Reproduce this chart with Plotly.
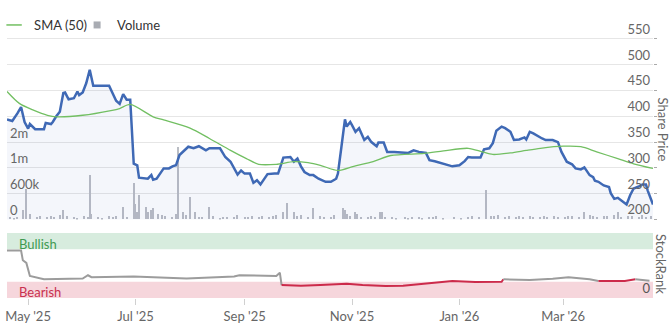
import plotly.graph_objects as go

# ---------------- data ----------------
price_dates = ["2025-04-19","2025-04-22","2025-04-25","2025-04-27","2025-04-29","2025-05-01","2025-05-02","2025-05-05","2025-05-10","2025-05-11",
               "2025-05-14","2025-05-15","2025-05-17","2025-05-19","2025-05-21","2025-05-22","2025-05-24","2025-05-27","2025-05-29","2025-05-30",
               "2025-06-01","2025-06-03","2025-06-05","2025-06-07","2025-06-16","2025-06-17","2025-06-20","2025-06-22","2025-06-24","2025-06-26",
               "2025-06-28","2025-06-30","2025-07-02","2025-07-03","2025-07-08","2025-07-10","2025-07-11","2025-07-13","2025-07-17","2025-07-20",
               "2025-07-22","2025-07-24","2025-07-26","2025-07-31","2025-08-03","2025-08-06","2025-08-10","2025-08-12","2025-08-18","2025-08-21",
               "2025-08-24","2025-08-28","2025-08-30","2025-09-01","2025-09-04","2025-09-06","2025-09-08","2025-09-10","2025-09-12","2025-09-14",
               "2025-09-18","2025-09-20","2025-09-21","2025-09-23","2025-09-27","2025-09-29","2025-10-01","2025-10-03","2025-10-05","2025-10-08",
               "2025-10-10","2025-10-13","2025-10-17","2025-10-20","2025-10-23","2025-10-24","2025-10-26","2025-10-28","2025-10-29","2025-10-31",
               "2025-11-01","2025-11-03","2025-11-05","2025-11-08","2025-11-10","2025-11-12","2025-11-15","2025-11-16","2025-11-19","2025-11-21",
               "2025-11-25","2025-12-03","2025-12-06","2025-12-09","2025-12-13","2025-12-15","2025-12-18","2025-12-21","2025-12-24","2025-12-28",
               "2026-01-01","2026-01-04","2026-01-06","2026-01-08","2026-01-13","2026-01-15","2026-01-18","2026-01-20","2026-01-22","2026-01-25",
               "2026-01-27","2026-01-30","2026-02-01","2026-02-04","2026-02-07","2026-02-08","2026-02-10","2026-02-12","2026-02-17","2026-02-19",
               "2026-02-23","2026-02-26","2026-02-28","2026-03-03","2026-03-06","2026-03-08","2026-03-11","2026-03-13","2026-03-16","2026-03-18",
               "2026-03-19","2026-03-21","2026-03-24","2026-03-27","2026-03-28","2026-03-30","2026-04-01","2026-04-03","2026-04-06","2026-04-08",
               "2026-04-10","2026-04-13","2026-04-15","2026-04-17","2026-04-18","2026-04-21"]
price_values = [394,391,406,418,389,376,385,375,375,387,
                385,389,400,409,445,446,433,435,448,441,
                446,464,490,459,459,451,430,424,443,432,
                432,308,305,281,279,286,277,279,299,299,
                303,305,325,341,338,342,334,338,338,321,
                312,287,295,289,289,271,276,268,279,288,
                289,289,299,320,321,312,318,303,292,286,
                286,279,273,273,279,289,341,394,380,389,
                383,370,377,354,360,350,342,349,349,331,
                331,329,334,331,329,315,313,310,307,303,
                305,313,321,320,320,336,338,348,372,380,
                377,370,354,355,359,355,370,367,357,354,
                354,350,331,312,307,299,297,301,286,282,
                275,273,266,263,251,240,242,237,229,247,
                260,264,268,268,256,229]

sma_dates = ["2025-04-19","2025-04-26","2025-05-04","2025-05-12","2025-05-17","2025-06-01","2025-06-17","2025-06-22","2025-06-28",
             "2025-07-11","2025-07-17","2025-08-01","2025-08-12","2025-08-24","2025-09-02","2025-09-09","2025-09-19","2025-09-29",
             "2025-10-07","2025-10-14","2025-10-24","2025-11-02","2025-11-13","2025-11-23","2025-12-12","2025-12-23","2026-01-06",
             "2026-01-14","2026-01-20","2026-01-30","2026-02-08","2026-02-16","2026-03-01","2026-03-11","2026-03-20","2026-04-01",
             "2026-04-10","2026-04-21"]
sma_values = [448,425,412,402,399,402,411,415,423,
              399,393,377,357,334,318,307,307,312,
              310,305,295,303,312,324,328,333,338,
              331,326,329,334,338,342,341,331,318,
              308,299]

vol_dates = ["2025-04-21","2025-04-23","2025-04-25","2025-04-28","2025-04-30","2025-05-02","2025-05-06","2025-05-08","2025-05-12","2025-05-14",
             "2025-05-16","2025-05-19","2025-05-21","2025-05-23","2025-05-27","2025-05-29","2025-06-02","2025-06-04","2025-06-05","2025-06-06",
             "2025-06-10","2025-06-12","2025-06-16","2025-06-18","2025-06-20","2025-06-24","2025-06-26","2025-06-30","2025-07-01","2025-07-02",
             "2025-07-03","2025-07-07","2025-07-08","2025-07-10","2025-07-11","2025-07-14","2025-07-16","2025-07-18","2025-07-22","2025-07-24",
             "2025-07-25","2025-07-28","2025-07-30","2025-08-01","2025-08-04","2025-08-06","2025-08-08","2025-08-12","2025-08-14","2025-08-18",
             "2025-08-20","2025-08-22","2025-08-26","2025-08-28","2025-09-01","2025-09-03","2025-09-05","2025-09-09","2025-09-11","2025-09-15",
             "2025-09-17","2025-09-19","2025-09-23","2025-09-25","2025-09-29","2025-10-01","2025-10-03","2025-10-07","2025-10-10","2025-10-14",
             "2025-10-16","2025-10-20","2025-10-22","2025-10-27","2025-10-28","2025-10-29","2025-10-31","2025-11-03","2025-11-04","2025-11-06",
             "2025-11-10","2025-11-12","2025-11-14","2025-11-17","2025-11-18","2025-11-20","2025-11-24","2025-11-26","2025-12-01","2025-12-03",
             "2025-12-05","2025-12-09","2025-12-11","2025-12-15","2025-12-17","2025-12-19","2025-12-23","2025-12-29","2026-01-02","2026-01-06",
             "2026-01-08","2026-01-12","2026-01-16","2026-01-19","2026-01-21","2026-01-23","2026-01-27","2026-01-29","2026-02-02","2026-02-04",
             "2026-02-06","2026-02-10","2026-02-12","2026-02-16","2026-02-18","2026-02-20","2026-02-24","2026-02-26","2026-03-02","2026-03-04",
             "2026-03-06","2026-03-10","2026-03-13","2026-03-16","2026-03-18","2026-03-20","2026-03-24","2026-03-26","2026-03-30","2026-04-01",
             "2026-04-03","2026-04-07","2026-04-09","2026-04-13","2026-04-15","2026-04-17","2026-04-20"]
vol_thousands = [60,40,50,200,650,120,50,70,60,80,
                 50,90,200,70,60,40,80,50,950,120,
                 60,40,70,50,80,270,60,785,330,150,
                 520,270,170,200,240,120,90,80,60,110,
                 1550,170,100,485,160,60,50,270,70,40,
                 60,50,60,90,60,50,70,60,80,60,
                 70,90,170,345,160,70,100,60,240,80,
                 60,50,90,240,200,120,80,170,110,60,
                 50,70,50,170,150,60,50,40,50,40,
                 60,50,40,60,50,70,40,50,40,60,
                 70,50,630,80,70,90,60,70,60,80,
                 50,70,60,50,80,60,70,50,60,80,
                 70,60,170,90,70,60,80,70,90,150,
                 60,80,70,60,90,50,70]

rank_dates = ["2025-04-19","2025-04-27","2025-04-28","2025-04-30","2025-05-02","2025-05-10","2025-06-01","2025-06-04","2025-06-06",
              "2025-06-30","2025-07-30","2025-08-26","2025-08-29","2025-09-19","2025-09-21","2025-09-22","2025-10-03","2025-10-14",
              "2025-10-29","2025-11-07","2025-11-20","2025-11-30","2025-12-15","2025-12-28","2026-01-10","2026-01-25","2026-01-26",
              "2026-02-10","2026-02-23","2026-03-04","2026-03-16","2026-03-21","2026-04-05","2026-04-11","2026-04-19"]
rank_values = [73,73,58,54,34,29,30,35,32,
               33,30,33,35,34,39,20,19,20,
               22,20,18.5,19,22.6,26,24.6,25,28.8,
               27.7,29.7,31.8,28.8,26,26,28.8,26.6]
rank_state = ["n","n","n","n","n","n","n","n","n",
              "n","n","n","n","n","n","b","b","b",
              "b","b","b","b","b","b","b","b","n",
              "n","n","n","n","b","b","n","n"]

x_range = ["2025-04-19", "2026-04-21"]
price_range = [200, 586.6]
vol_range = [0, 4252600]
vol_tickvals = [0, 550000, 1100000, 1650000]
vol_ticktext = ["0", "600k", "1m", "2m"]

FONT = "Lato"
GRAY_TXT = "#666666"

fig = go.Figure()

# volume bars (base axis y)
fig.add_trace(go.Bar(x=vol_dates, y=[v * 1000 for v in vol_thousands], xaxis="x", yaxis="y",
                     marker=dict(color="#babdc4", line=dict(width=0)), width=60480000,
                     showlegend=False, hoverinfo="skip"))
# price area + line (overlay axis y3)
fig.add_trace(go.Scatter(x=price_dates, y=price_values, xaxis="x", yaxis="y3", mode="lines",
                         fill="tozeroy", fillcolor="rgba(61,105,180,0.06)",
                         line=dict(color="#3f69b5", width=2.5), showlegend=False))
fig.add_trace(go.Scatter(x=sma_dates, y=sma_values, xaxis="x", yaxis="y3", mode="lines",
                         line=dict(color="#72bf62", width=1.3, shape="spline", smoothing=0.8),
                         showlegend=False))
# legend entries
fig.add_trace(go.Scatter(x=[None], y=[None], xaxis="x", yaxis="y3", mode="markers", name="SMA (50)",
                         legend="legend",
                         marker=dict(symbol="line-ew", size=11, line=dict(color="#72bf62", width=1.5))))
fig.add_trace(go.Scatter(x=[None], y=[None], xaxis="x", yaxis="y3", mode="markers", name="Volume",
                         legend="legend2",
                         marker=dict(symbol="square", size=7, color="#a9acb3")))

# StockRank line split into coloured runs
colors = {"n": "#9c9c9c", "b": "#cc2b4b"}
start = 0
for i in range(1, len(rank_values) + 1):
    if i == len(rank_values) or rank_state[i] != rank_state[start]:
        end = min(i, len(rank_values) - 1)
        fig.add_trace(go.Scatter(x=rank_dates[start:end + 1], y=rank_values[start:end + 1],
                                 xaxis="x2", yaxis="y2", mode="lines",
                                 line=dict(color=colors[rank_state[start]], width=2),
                                 showlegend=False))
        start = i

legend_common = dict(orientation="h", xanchor="left", y=0.982, yanchor="middle",
                     font=dict(size=13, color="#333333"), itemwidth=30,
                     bgcolor="rgba(0,0,0,0)")

fig.update_layout(
    width=671, height=324,
    margin=dict(l=7, r=18, t=20, b=26, autoexpand=False),
    paper_bgcolor="white", plot_bgcolor="white",
    font=dict(family=FONT, size=13, color=GRAY_TXT),
    bargap=0,
    showlegend=True,
    legend=dict(x=-0.02, **legend_common),
    legend2=dict(x=0.1085, **legend_common),
    xaxis=dict(domain=[0, 1], anchor="y", range=x_range, type="date", showticklabels=False,
               showgrid=False, zeroline=False, showline=False, ticks="", automargin=False),
    yaxis=dict(domain=[0.2824, 1], anchor="x", side="left", range=vol_range,
               tickvals=vol_tickvals, ticktext=vol_ticktext, ticklabelposition="inside top",
               showgrid=False, zeroline=False, showline=False, ticks="", automargin=False,
               tickfont=dict(size=13, color=GRAY_TXT)),
    yaxis3=dict(overlaying="y", anchor="x", side="right", range=price_range,
                tickvals=[200, 250, 300, 350, 400, 450, 500, 550],
                showgrid=True, gridcolor="#e6e6e6", gridwidth=1, zeroline=False, showline=False,
                ticklabelposition="inside top", ticks="outside", ticklen=3, tickcolor="#aaaaaa",
                tickfont=dict(size=13, color=GRAY_TXT), automargin=False),
    xaxis2=dict(domain=[0, 1], anchor="y2", matches="x", range=x_range, type="date",
                tickformat="%b '%y", dtick="M2", tick0="2025-05-01", ticks="outside", ticklen=6,
                tickcolor="#d0d0d0", showgrid=False, zeroline=False, showline=False, automargin=False,
                tickfont=dict(size=13, color=GRAY_TXT)),
    yaxis2=dict(domain=[0, 0.2338], anchor="x2", side="right", range=[0, 100], tickvals=[0],
                ticktext=["0"], ticklabelposition="inside top", showgrid=False, zeroline=False,
                showline=False, ticks="", tickfont=dict(size=13, color="#555555"), automargin=False),
    shapes=[
        dict(type="rect", xref="x2 domain", yref="y2", x0=0, x1=1, y0=75, y1=100,
             fillcolor="#d7ecde", line=dict(width=0), layer="below"),
        dict(type="rect", xref="x2 domain", yref="y2", x0=0, x1=1, y0=0, y1=25,
             fillcolor="#f6d6dc", line=dict(width=0), layer="below"),
    ],
    annotations=[
        dict(text="Bullish", xref="x2 domain", yref="y2", x=0, y=83, xanchor="left", yanchor="middle",
             xshift=10, showarrow=False, font=dict(size=13, color="#3f9a52")),
        dict(text="Bearish", xref="x2 domain", yref="y2", x=0, y=9, xanchor="left", yanchor="middle",
             xshift=10, showarrow=False, font=dict(size=13, color="#c9304f")),
        dict(text="Share Price", xref="paper", yref="paper", x=1, y=0.606, xanchor="center",
             yanchor="middle", xshift=10, textangle=90, showarrow=False,
             font=dict(size=13, color=GRAY_TXT)),
        dict(text="StockRank", xref="paper", yref="paper", x=1, y=0.1223, xanchor="center",
             yanchor="middle", xshift=8, textangle=90, showarrow=False,
             font=dict(size=13, color=GRAY_TXT)),
    ],
)

fig.write_html("out.html")
